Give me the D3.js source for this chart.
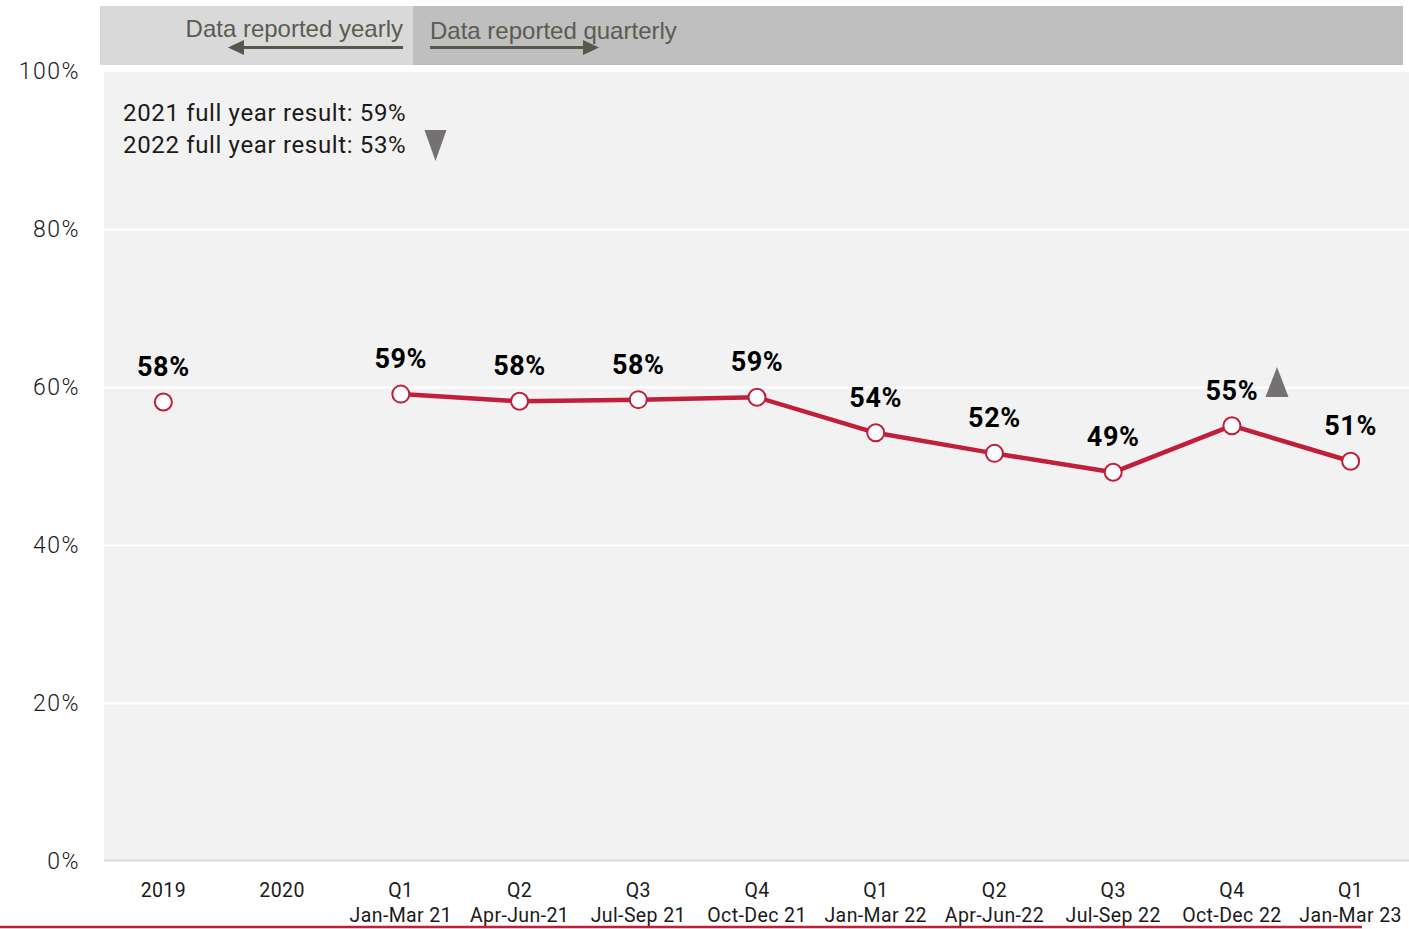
<!DOCTYPE html>
<html>
<head>
<meta charset="utf-8">
<script src="https://cdn.jsdelivr.net/npm/d3@7"></script>
<style>
  html, body { margin: 0; padding: 0; background: #ffffff; }
  svg { display: block; }
</style>
</head>
<body>
<svg id="chart" width="1409" height="929"></svg>
<script>
// Reporting periods (first line / second line of each axis label)
const periodTop = ["2019", "2020", "Q1", "Q2", "Q3", "Q4", "Q1", "Q2", "Q3", "Q4", "Q1"];
const periodBottom = ["", "", "Jan-Mar 21", "Apr-Jun-21", "Jul-Sep 21", "Oct-Dec 21",
                      "Jan-Mar 22", "Apr-Jun-22", "Jul-Sep 22", "Oct-Dec 22", "Jan-Mar 23"];
// Result per period, percent (null where nothing was reported)
const results = [58.1, null, 59.1, 58.2, 58.4, 58.7, 54.2, 51.6, 49.2, 55.1, 50.6];
// Periods joined by the trend line (quarterly reporting)
const quarterlyFrom = 2;
// Y-axis ticks
const yTicks = [0, 20, 40, 60, 80, 100];
// Annotation lines
const annotations = ["2021 full year result: 59%", "2022 full year result: 53%"];
// Header labels
const headerLabels = ["Data reported yearly", "Data reported quarterly"];

const svg = d3.select("#chart");
const FONT = "Roboto, 'Noto Sans', sans-serif";
const RED = "#c11e3a";

const plot = { left: 104, right: 1409, top: 72, bottom: 861 };

const x = d3.scalePoint()
  .domain(d3.range(periodTop.length))
  .range([plot.left, plot.right + 1])
  .padding(0.5);

const y = d3.scaleLinear()
  .domain([0, 100])
  .range([plot.bottom, 71]);

// Header band: yearly vs quarterly
const split = 413;
svg.append("rect").attr("x", 100).attr("y", 6).attr("width", split - 100).attr("height", 59)
  .attr("fill", "#d9d9d9");
svg.append("rect").attr("x", split).attr("y", 6).attr("width", 1403 - split).attr("height", 59)
  .attr("fill", "#bfbfbf");

const headerColor = "#55584a";
svg.append("text").attr("x", split - 10).attr("y", 37).attr("text-anchor", "end")
  .attr("font-family", "'Liberation Sans', Arial, sans-serif").attr("font-size", 24)
  .attr("fill", "#5b5b52").text(headerLabels[0]);
svg.append("text").attr("x", split + 17).attr("y", 39).attr("text-anchor", "start")
  .attr("font-family", "'Liberation Sans', Arial, sans-serif").attr("font-size", 24)
  .attr("fill", "#5b5b52").text(headerLabels[1]);

// Arrows under the header labels
svg.append("line").attr("x1", split - 10).attr("x2", 240).attr("y1", 47.5).attr("y2", 47.5)
  .attr("stroke", headerColor).attr("stroke-width", 3);
svg.append("path").attr("d", "M228,47.5 L244,40 L244,55 Z").attr("fill", headerColor);
svg.append("line").attr("x1", split + 17).attr("x2", 588).attr("y1", 47.5).attr("y2", 47.5)
  .attr("stroke", headerColor).attr("stroke-width", 3);
svg.append("path").attr("d", "M599,47.5 L583,40 L583,55 Z").attr("fill", headerColor);

// Plot background
svg.append("rect").attr("x", plot.left).attr("y", plot.top)
  .attr("width", plot.right - plot.left).attr("height", plot.bottom - plot.top)
  .attr("fill", "#f2f2f2");

// Gridlines
svg.append("g").selectAll("line").data(yTicks.filter(d => d > 0 && d < 100)).join("line")
  .attr("x1", plot.left).attr("x2", plot.right)
  .attr("y1", d => Math.round(y(d)) + 0.5).attr("y2", d => Math.round(y(d)) + 0.5)
  .attr("stroke", "#ffffff").attr("stroke-width", 2);

// Baseline
svg.append("line").attr("x1", plot.left).attr("x2", plot.right)
  .attr("y1", y(0) - 0.5).attr("y2", y(0) - 0.5)
  .attr("stroke", "#d9d9d9").attr("stroke-width", 2);

// Y-axis labels
svg.append("g").selectAll("text").data(yTicks).join("text")
  .attr("x", 80).attr("y", d => y(d) + 8)
  .attr("text-anchor", "end")
  .attr("font-family", FONT).attr("font-size", 23).attr("font-weight", 300)
  .attr("fill", "#1a1a1a").attr("letter-spacing", 1.5)
  .text(d => d + "%");

// X-axis labels
const xl = svg.append("g").selectAll("g").data(d3.range(periodTop.length)).join("g")
  .attr("transform", i => `translate(${x(i)},0)`);
xl.append("text").attr("y", 897).attr("text-anchor", "middle")
  .attr("font-family", FONT).attr("font-size", 19.5).attr("fill", "#1a1a1a")
  .attr("letter-spacing", 0.4)
  .text(i => periodTop[i]);
xl.append("text").attr("y", 922).attr("text-anchor", "middle")
  .attr("font-family", FONT).attr("font-size", 19.5).attr("fill", "#1a1a1a")
  .attr("letter-spacing", 0.4)
  .text(i => periodBottom[i]);

// Red rule at the bottom
svg.append("line").attr("x1", 0).attr("x2", 1362).attr("y1", 927).attr("y2", 927)
  .attr("stroke", RED).attr("stroke-width", 2.5);

// Annotations
svg.append("g").selectAll("text").data(annotations).join("text")
  .attr("x", 123).attr("y", (d, i) => 121 + i * 32)
  .attr("font-family", FONT).attr("font-size", 24).attr("fill", "#1a1a1a")
  .attr("letter-spacing", 0.65)
  .text(d => d);

// Direction markers
const tri = (cx, top, w, h, down) => down
  ? `M${cx - w / 2},${top} L${cx + w / 2},${top} L${cx},${top + h} Z`
  : `M${cx - w / 2},${top + h} L${cx + w / 2},${top + h} L${cx},${top} Z`;
svg.append("path").attr("d", tri(435.5, 130, 22, 31, true)).attr("fill", "#767171");
svg.append("path").attr("d", tri(1277, 367, 23, 30, false)).attr("fill", "#767171");

// Trend line (quarterly periods)
const lineData = results.map((v, i) => ({ i, v })).filter(d => d.v != null && d.i >= quarterlyFrom);
svg.append("path").datum(lineData)
  .attr("fill", "none").attr("stroke", RED).attr("stroke-width", 4.5)
  .attr("stroke-linejoin", "round")
  .attr("d", d3.line().x(d => x(d.i)).y(d => y(d.v)));

// Points
const pts = results.map((v, i) => ({ i, v })).filter(d => d.v != null);
svg.append("g").selectAll("circle").data(pts).join("circle")
  .attr("cx", d => x(d.i)).attr("cy", d => y(d.v)).attr("r", 8.5)
  .attr("fill", "#ffffff").attr("stroke", RED).attr("stroke-width", 2);

// Value labels
const fmt = d3.format(".0f");
svg.append("g").selectAll("text").data(pts).join("text")
  .attr("x", d => x(d.i)).attr("y", d => y(d.v) - 26)
  .attr("text-anchor", "middle")
  .attr("font-family", FONT).attr("font-size", 27).attr("font-weight", 700)
  .attr("fill", "#000000").attr("letter-spacing", 0.6)
  .text(d => fmt(d.v) + "%");
</script>
</body>
</html>
